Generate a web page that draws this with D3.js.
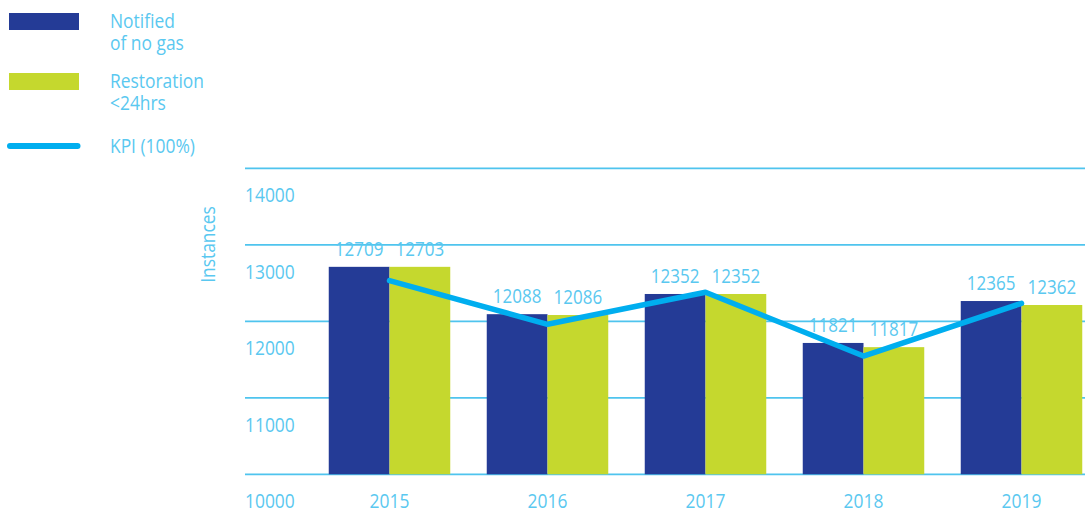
<!DOCTYPE html>
<html>
<head>
<meta charset="utf-8">
<script src="https://cdn.jsdelivr.net/npm/d3@7"></script>
<style>
  html, body { margin: 0; padding: 0; background: #fff; }
  svg { display: block; }
  text { font-family: "Open Sans", "Noto Sans", sans-serif; font-weight: 400; fill: #5ac8f0; }
</style>
</head>
<body>
<svg id="chart" width="1085" height="510"></svg>
<script>
// ---- data ----
const years = ["2015", "2016", "2017", "2018", "2019"];
const seriesNames = ["Notified of no gas", "Restoration <24hrs"];
// bar heights as drawn in the picture
const notifiedValues = [12712, 12093, 12357, 11717, 12265];
const restorationValues = [12712, 12082, 12357, 11662, 12213];
// value labels printed above the bars
const notifiedLabels = ["12709", "12088", "12352", "11821", "12365"];
const restorationLabels = ["12703", "12086", "12352", "11817", "12362"];
// KPI line as drawn
const kpiValues = [12531, 11961, 12379, 11546, 12235];
const yTicks = [10000, 11000, 12000, 13000, 14000];
const legendLabels = [["Notified", "of no gas"], ["Restoration", "<24hrs"], ["KPI (100%)"]];
const yAxisTitle = "Instances";

// ---- styles ----
const BLUE = "#243b96", GREEN = "#c5d82e", KPI = "#00aeef", GRID = "#4fc4ee";
const SX = 0.87;

const svg = d3.select("#chart");

const y = d3.scaleLinear().domain([10000, 14000]).range([474.3, 168.3]);
const x = d3.scaleBand().domain(years).range([310.5, 1100.5]).paddingInner(0.231).paddingOuter(0.1155);
const xs = d3.scaleBand().domain(seriesNames).range([0, x.bandwidth()]).padding(0);

// gridlines
svg.append("g").selectAll("line").data(yTicks).join("line")
  .attr("x1", 245).attr("x2", 1085)
  .attr("y1", d => y(d)).attr("y2", d => y(d))
  .attr("stroke", GRID).attr("stroke-width", 1.8);

// tick labels (placed below their gridline)
svg.append("g").selectAll("text").data(yTicks).join("text")
  .attr("transform", d => `translate(245,${y(d) + 34}) scale(${SX},1)`)
  .attr("font-size", 20)
  .text(d => d);

// y title
svg.append("text")
  .attr("transform", `translate(215,244.5) rotate(-90) scale(${SX},1)`)
  .attr("text-anchor", "middle")
  .attr("font-size", 20)
  .text(yAxisTitle);

// bars
const rows = years.map((yr, i) => ({
  year: yr,
  vals: [
    { s: seriesNames[0], v: notifiedValues[i], label: notifiedLabels[i], color: BLUE },
    { s: seriesNames[1], v: restorationValues[i], label: restorationLabels[i], color: GREEN }
  ]
}));

const groups = svg.append("g").selectAll("g").data(rows).join("g")
  .attr("transform", d => `translate(${x(d.year)},0)`);

groups.selectAll("rect").data(d => d.vals).join("rect")
  .attr("x", d => xs(d.s))
  .attr("width", xs.bandwidth())
  .attr("y", d => y(d.v))
  .attr("height", d => y(10000) - y(d.v))
  .attr("fill", d => d.color);

// KPI line
const line = d3.line()
  .x((d, i) => x(years[i]) + x.bandwidth() / 2)
  .y(d => y(d));
svg.append("path")
  .datum(kpiValues)
  .attr("d", line)
  .attr("fill", "none")
  .attr("stroke", KPI)
  .attr("stroke-width", 5.5)
  .attr("stroke-linejoin", "round")
  .attr("stroke-linecap", "round");

// value labels
groups.selectAll("text.val").data(d => d.vals).join("text")
  .attr("class", "val")
  .attr("transform", d => `translate(${xs(d.s) + xs.bandwidth() / 2},${y(d.v) - 11}) scale(0.85,1)`)
  .attr("text-anchor", "middle")
  .attr("font-size", 20)
  .text(d => d.label);

// year labels
svg.append("g").selectAll("text").data(years).join("text")
  .attr("transform", d => `translate(${x(d) + x.bandwidth() / 2},507.5) scale(${SX},1)`)
  .attr("text-anchor", "middle")
  .attr("font-size", 20)
  .text(d => d);

// legend
const leg = svg.append("g");
leg.append("rect").attr("x", 9).attr("y", 13).attr("width", 70).attr("height", 17).attr("fill", BLUE);
leg.append("rect").attr("x", 9).attr("y", 73).attr("width", 70).attr("height", 17).attr("fill", GREEN);
leg.append("line").attr("x1", 10).attr("x2", 77.5).attr("y1", 146).attr("y2", 146)
  .attr("stroke", KPI).attr("stroke-width", 6).attr("stroke-linecap", "round");
const legY = [[28.3, 50], [88.3, 110], [152.6]];
legendLabels.forEach((lines, i) => {
  lines.forEach((t, j) => {
    leg.append("text")
      .attr("transform", `translate(110,${legY[i][j]}) scale(${SX},1)`)
      .attr("font-size", 20)
      .text(t);
  });
});
</script>
</body>
</html>
